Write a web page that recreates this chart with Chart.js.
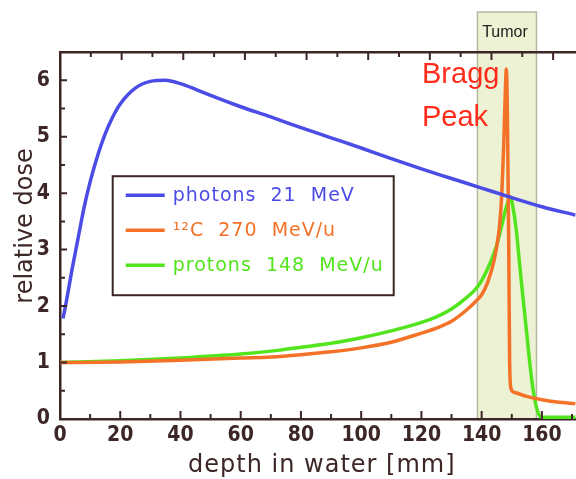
<!DOCTYPE html>
<html>
<head>
<meta charset="utf-8">
<script src="https://cdn.jsdelivr.net/npm/chart.js@4.4.1/dist/chart.umd.min.js"></script>
<style>
  html, body { margin: 0; padding: 0; background: #fff; }
  canvas { display: block; }
</style>
</head>
<body>
<canvas id="chart" width="576" height="479"></canvas>
<script>
// depth dose curves in water
var depthPhoton = [1, 2, 4, 6, 8, 10, 12, 15, 17.5, 20, 25, 30, 35, 40, 45, 50, 60, 70, 80, 90, 100, 110, 120, 130, 140, 150, 160, 171.2];
var dosePhoton  = [1.78, 2.05, 2.65, 3.2, 3.75, 4.2, 4.58, 5.05, 5.35, 5.58, 5.86, 5.98, 6.0, 5.94, 5.84, 5.73, 5.53, 5.35, 5.16, 4.98, 4.8, 4.61, 4.43, 4.26, 4.09, 3.92, 3.76, 3.61];

var depthCarbon = [0, 20, 40, 60, 70, 80, 90, 100, 110, 120, 125, 130, 135, 138, 140, 142, 144, 145, 146, 146.7, 147.3, 147.8, 148.2, 148.6, 149.0, 149.3, 149.7, 151, 155, 160, 165, 171.2];
var doseCarbon  = [1.0, 1.01, 1.04, 1.08, 1.1, 1.14, 1.19, 1.26, 1.36, 1.52, 1.61, 1.73, 1.93, 2.08, 2.2, 2.42, 2.78, 3.05, 3.45, 4.0, 4.8, 5.7, 6.2, 5.2, 3.0, 1.0, 0.55, 0.47, 0.4, 0.34, 0.3, 0.27];

var depthProton = [0, 20, 40, 60, 73, 80, 90, 100, 110, 120, 125, 130, 135, 138, 140, 142, 144, 145, 146, 147, 148, 149, 149.6, 150.3, 151.5, 152.5, 153.7, 155, 156, 157, 158, 159, 160, 171.2];
var doseProton  = [1.0, 1.03, 1.08, 1.15, 1.22, 1.27, 1.34, 1.44, 1.56, 1.71, 1.81, 1.95, 2.15, 2.3, 2.45, 2.66, 2.92, 3.08, 3.28, 3.5, 3.72, 3.88, 3.93, 3.78, 3.35, 2.8, 2.16, 1.5, 0.98, 0.55, 0.25, 0.08, 0.03, 0.03];

var seriesLabels = ['photons  21  MeV', '\u00b9\u00b2C  270  MeV/u', 'protons  148  MeV/u'];
var seriesColors = ['#4b4be6', '#f47228', '#52e41c'];

var tumorRange = [138.6, 158.2];
var xRange = [0, 171.2];
var yRange = [0, 6.5];

var axisColor = '#3c2626';

function toPoints(xs, ys) {
    return xs.map(function(x, i) { return {x: x, y: ys[i]}; });
}

// tumor band, drawn under the axes
var tumorBand = {
    id: 'tumorBand',
    beforeDraw: function(chart) {
        var ctx = chart.ctx, xs = chart.scales.x, area = chart.chartArea;
        ctx.save();
        ctx.fillStyle = '#fff';
        ctx.fillRect(0, 0, chart.width, chart.height);
        var x0 = xs.getPixelForValue(tumorRange[0]);
        var x1 = xs.getPixelForValue(tumorRange[1]);
        var top = area.top - 40;
        ctx.fillStyle = '#edf2d4';
        ctx.fillRect(x0, top, x1 - x0, area.bottom - top);
        ctx.strokeStyle = '#b2b9a2';
        ctx.lineWidth = 1.5;
        ctx.strokeRect(x0, top, x1 - x0, area.bottom - top);
        ctx.fillStyle = '#222';
        ctx.font = '16px "Liberation Sans", Arial, sans-serif';
        ctx.textAlign = 'center';
        ctx.textBaseline = 'middle';
        ctx.fillText('Tumor', (x0 + x1) / 2 - 2, top + 21);
        ctx.restore();
    }
};

// inward tick marks, titles, legend box and the peak note
var decorations = {
    id: 'decorations',
    afterDraw: function(chart) {
        var ctx = chart.ctx, area = chart.chartArea;
        var xs = chart.scales.x, xt = chart.scales.xTop, ys = chart.scales.y;
        ctx.save();
        ctx.strokeStyle = axisColor;
        ctx.lineWidth = 2;
        ctx.beginPath();
        xs.ticks.forEach(function(t) {
            var px = xs.getPixelForValue(t.value);
            var len = t.value % 20 === 0 ? 8 : 5;
            ctx.moveTo(px, area.bottom);
            ctx.lineTo(px, area.bottom - len);
        });
        xt.ticks.forEach(function(t) {
            var px = xt.getPixelForValue(t.value);
            if (px <= area.left + 2) return;
            var len = t.value % 20 === 0 ? 8 : 5;
            ctx.moveTo(px, area.top);
            ctx.lineTo(px, area.top + len);
        });
        ys.ticks.forEach(function(t) {
            var py = ys.getPixelForValue(t.value);
            var len = Number.isInteger(t.value) ? 7 : 5;
            ctx.moveTo(area.left, py);
            ctx.lineTo(area.left + len, py);
        });
        ctx.stroke();

        // axis titles
        ctx.fillStyle = axisColor;
        ctx.font = '24px "DejaVu Sans", sans-serif';
        ctx.textAlign = 'center';
        ctx.textBaseline = 'middle';
        ctx.letterSpacing = '1px';
        ctx.fillText('depth in water [mm]', (area.left + area.right) / 2 + 4, 466);
        ctx.letterSpacing = '0px';
        ctx.save();
        ctx.translate(26, 226);
        ctx.rotate(-Math.PI / 2);
        ctx.fillText('relative dose', 0, 0);
        ctx.restore();

        // legend
        var lx = xs.getPixelForValue(17.5), ly = ys.getPixelForValue(4.3);
        var lw = 281, lh = 119;
        ctx.lineWidth = 2;
        ctx.strokeRect(lx, ly, lw, lh);
        ctx.font = '19px "DejaVu Sans", sans-serif';
        ctx.textAlign = 'left';
        ctx.letterSpacing = '1px';
        chart.data.datasets.forEach(function(ds, i) {
            var cy = ly + 19 + i * 35;
            ctx.strokeStyle = ds.borderColor;
            ctx.lineWidth = 3.5;
            ctx.beginPath();
            ctx.moveTo(lx + 13, cy);
            ctx.lineTo(lx + 52, cy);
            ctx.stroke();
            ctx.fillStyle = ds.borderColor;
            ctx.fillText(ds.label, lx + 60, cy + 1);
        });
        ctx.letterSpacing = '0px';

        // Bragg peak note
        ctx.fillStyle = '#ff2c1c';
        ctx.font = '29px "Liberation Sans", Arial, sans-serif';
        ctx.textBaseline = 'alphabetic';
        ctx.fillText('Bragg', 422, 83);
        ctx.fillText('Peak', 422, 126);
        ctx.restore();
    }
};

var datasets = [
    {label: seriesLabels[0], data: toPoints(depthPhoton, dosePhoton)},
    {label: seriesLabels[1], data: toPoints(depthCarbon, doseCarbon)},
    {label: seriesLabels[2], data: toPoints(depthProton, doseProton)}
].map(function(ds, i) {
    ds.borderColor = seriesColors[i];
    ds.backgroundColor = seriesColors[i];
    ds.borderWidth = 3.5;
    ds.pointRadius = 0;
    ds.fill = false;
    ds.cubicInterpolationMode = 'monotone';
    return ds;
});

var tickFont = {family: '"Liberation Sans Narrow", "DejaVu Sans Condensed", sans-serif', size: 21, weight: 'bold'};

new Chart(document.getElementById('chart').getContext('2d'), {
    type: 'line',
    data: {datasets: datasets},
    plugins: [tumorBand, decorations],
    options: {
        responsive: false,
        animation: false,
        layout: {padding: {top: 52, right: 0, bottom: 0, left: 0}},
        plugins: {legend: {display: false}, tooltip: {enabled: false}},
        scales: {
            x: {
                type: 'linear',
                position: 'bottom',
                min: xRange[0],
                max: xRange[1],
                grid: {display: false, drawTicks: false},
                border: {display: true, color: axisColor, width: 2.5},
                ticks: {
                    stepSize: 10,
                    includeBounds: false,
                    autoSkip: false,
                    maxRotation: 0,
                    padding: 4,
                    color: axisColor,
                    font: tickFont,
                    callback: function(v) { return v % 20 === 0 ? String(v) : ''; }
                },
                afterFit: function(s) { s.height = 60; }
            },
            xTop: {
                type: 'linear',
                position: 'top',
                min: 0,
                max: 167.3,
                grid: {display: false, drawTicks: false},
                border: {display: true, color: axisColor, width: 2.5},
                ticks: {display: false, stepSize: 10, includeBounds: false},
                afterFit: function(s) { s.height = 0; }
            },
            y: {
                min: yRange[0],
                max: yRange[1],
                grid: {display: false, drawTicks: false},
                border: {display: true, color: axisColor, width: 2.5},
                ticks: {
                    stepSize: 0.5,
                    autoSkip: false,
                    padding: 10,
                    color: axisColor,
                    font: tickFont,
                    callback: function(v) { return Number.isInteger(v) ? String(v) : ''; }
                },
                afterFit: function(s) { s.width = 60; }
            }
        }
    }
});
</script>
</body>
</html>
